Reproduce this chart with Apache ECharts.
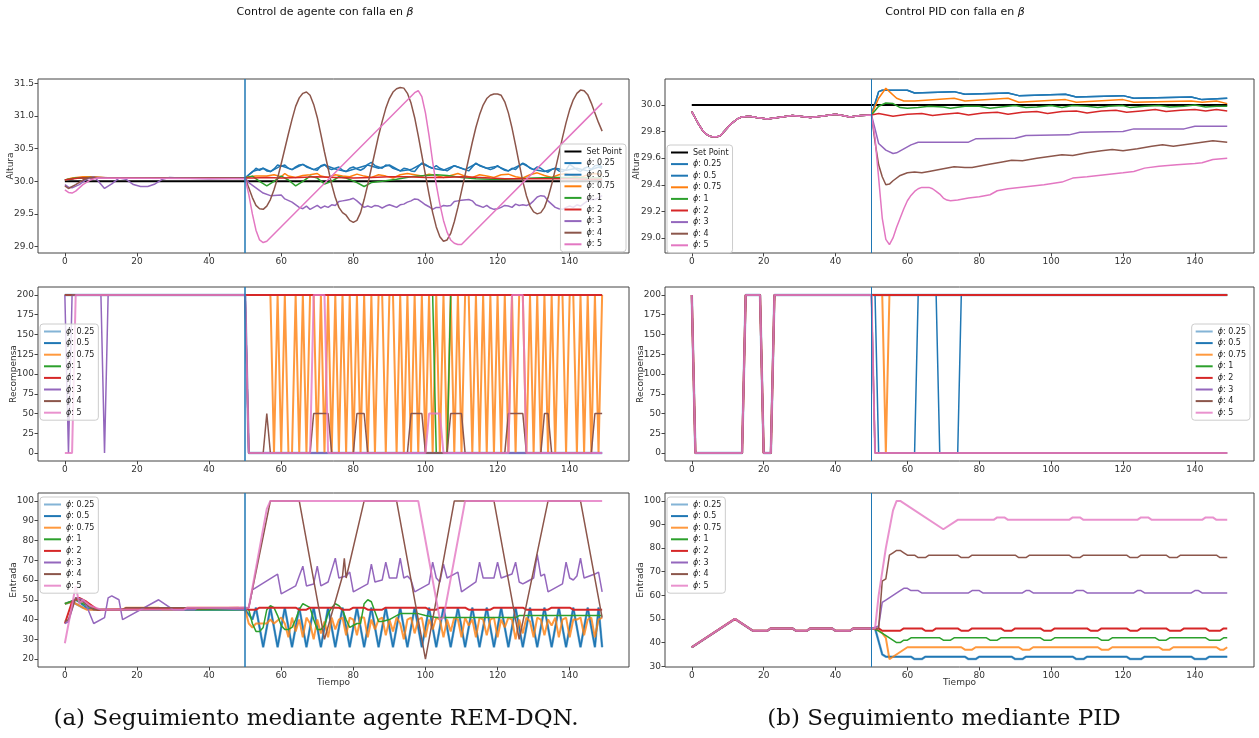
<!DOCTYPE html>
<html>
<head>
<meta charset="utf-8">
<script src="https://cdn.jsdelivr.net/npm/echarts@6/dist/echarts.min.js"></script>
<style>
html,body{margin:0;padding:0;background:#fff;}
#chart{width:1259px;height:738px;}
</style>
</head>
<body>
<div id="chart"></div>
<script>
// ---------------- data ----------------
const phiLabels = ['ϕ: 0.25','ϕ: 0.5','ϕ: 0.75','ϕ: 1','ϕ: 2','ϕ: 3','ϕ: 4','ϕ: 5'];
const phiColors = ['#1f77b4','#1f77b4','#ff7f0e','#2ca02c','#d62728','#9467bd','#8c564b','#e377c2'];
const timeTicks = [0,20,40,60,80,100,120,140];
const faultTime = 50;

// Altura - agente REM-DQN  ([tiempo, valor])
const altAgSetPoint = [[0,30],[149,30]];
const altAgPhi025 = [[0,30.02],[3,30.05],[6,30.06],[10,30.05],[50,30.05],[52,30.15],[55,30.2],[57,30.15],[60,30.24],[63,30.18],[66,30.26],[69,30.18],[72,30.25],[75,30.19],[78,30.15],[81,30.2],[84,30.25],[87,30.2],[90,30.25],[93,30.16],[96,30.18],[99,30.27],[102,30.2],[105,30.17],[108,30.24],[111,30.18],[114,30.27],[117,30.2],[120,30.23],[123,30.16],[127,30.27],[130,30.18],[133,30.15],[136,30.2],[139,30.17],[142,30.2],[145,30.16],[148,30.22],[149,30.2]];
const altAgPhi05 = [[0,30.02],[3,30.05],[6,30.06],[10,30.05],[50,30.05],[51,30.1],[52,30.14],[53,30.2],[54,30.17],[55,30.2],[56,30.16],[57,30.15],[58,30.19],[59,30.25],[60,30.23],[61,30.25],[62,30.2],[63,30.18],[64,30.22],[65,30.25],[66,30.26],[67,30.22],[68,30.2],[69,30.18],[70,30.17],[71,30.24],[72,30.26],[73,30.2],[74,30.18],[75,30.2],[76,30.22],[77,30.17],[78,30.15],[79,30.2],[80,30.22],[81,30.19],[82,30.17],[83,30.2],[84,30.26],[85,30.29],[86,30.24],[87,30.22],[88,30.2],[89,30.25],[90,30.24],[91,30.2],[92,30.18],[93,30.16],[94,30.2],[95,30.19],[96,30.16],[97,30.15],[98,30.22],[99,30.28],[100,30.26],[101,30.22],[102,30.2],[103,30.24],[104,30.2],[105,30.18],[106,30.16],[107,30.2],[108,30.24],[109,30.22],[110,30.2],[111,30.18],[112,30.16],[113,30.22],[114,30.28],[115,30.24],[116,30.22],[117,30.2],[118,30.18],[119,30.2],[120,30.24],[121,30.2],[122,30.17],[123,30.16],[124,30.2],[125,30.18],[126,30.24],[127,30.28],[128,30.25],[129,30.2],[130,30.18],[131,30.22],[132,30.2],[133,30.16],[134,30.14],[135,30.18],[136,30.2],[137,30.16],[138,30.15],[139,30.18],[140,30.26],[141,30.22],[142,30.18],[143,30.15],[144,30.2],[145,30.22],[146,30.18],[147,30.24],[148,30.25],[149,30.22]];
const altAgPhi075 = [[0,30.02],[2,30.05],[5,30.07],[8,30.07],[12,30.05],[50,30.05],[51,30.07],[53,30.08],[56,30.08],[58,30.1],[60,30.07],[61,30.12],[62,30.08],[64,30.06],[66,30.09],[68,30.1],[70,30.12],[71,30.08],[73,30.06],[75,30.1],[77,30.08],[79,30.07],[81,30.11],[83,30.08],[85,30.06],[87,30.1],[89,30.08],[91,30.05],[93,30.1],[95,30.12],[97,30.1],[99,30.08],[101,30.11],[103,30.09],[105,30.06],[107,30.09],[109,30.12],[111,30.08],[113,30.06],[115,30.1],[117,30.08],[119,30.06],[121,30.1],[123,30.11],[125,30.07],[127,30.05],[129,30.1],[131,30.13],[133,30.09],[135,30.06],[137,30.1],[139,30.12],[141,30.08],[143,30.06],[145,30.1],[147,30.12],[149,30.1]];
const altAgPhi1 = [[0,30.02],[3,30.05],[7,30.06],[12,30.05],[50,30.05],[52,30.08],[54,30.0],[56,29.93],[58,30.0],[60,30.08],[62,30.02],[64,29.93],[66,30.0],[68,30.08],[70,30.05],[72,29.96],[74,30.0],[76,30.07],[78,30.05],[81,29.98],[83,29.92],[85,29.98],[88,30.0],[92,30.03],[96,30.07],[100,30.09],[103,30.1],[106,30.09],[110,30.06],[114,30.04],[118,30.03],[122,30.03],[126,30.04],[130,30.05],[135,30.06],[140,30.06],[145,30.05],[149,30.05]];
const altAgPhi2 = [[0,30.02],[4,30.05],[50,30.05],[52,30.05],[56,30.06],[60,30.05],[65,30.06],[70,30.07],[75,30.06],[80,30.05],[85,30.06],[90,30.07],[95,30.07],[100,30.06],[105,30.06],[110,30.07],[115,30.06],[118,30.05],[122,30.04],[130,30.04],[140,30.04],[145,30.03],[149,30.03]];
const altAgPhi3 = [[0,29.95],[1,29.91],[2,29.9],[4,29.95],[6,30.03],[8,30.07],[9,30.02],[11,29.89],[13,29.96],[15,30.05],[17,30.03],[19,29.95],[21,29.92],[23,29.92],[25,29.96],[27,30.03],[29,30.06],[32,30.05],[40,30.04],[50,30.05],[51,29.98],[53,29.9],[55,29.82],[57,29.78],[60,29.79],[61,29.73],[63,29.68],[65,29.6],[66,29.58],[67,29.62],[68,29.57],[69,29.6],[70,29.63],[71,29.59],[72,29.62],[73,29.6],[74,29.64],[75,29.63],[76,29.69],[77,29.7],[78,29.71],[79,29.72],[80,29.74],[81,29.7],[82,29.65],[83,29.6],[84,29.62],[85,29.6],[86,29.63],[87,29.62],[88,29.59],[89,29.62],[90,29.64],[91,29.62],[92,29.6],[93,29.64],[94,29.65],[95,29.68],[96,29.7],[97,29.73],[98,29.72],[99,29.68],[100,29.64],[101,29.61],[102,29.57],[103,29.6],[104,29.6],[105,29.63],[106,29.62],[107,29.63],[108,29.69],[109,29.7],[110,29.71],[112,29.72],[113,29.7],[114,29.64],[115,29.62],[116,29.6],[117,29.63],[118,29.59],[119,29.57],[120,29.58],[121,29.6],[122,29.63],[123,29.62],[124,29.6],[125,29.65],[126,29.63],[127,29.64],[128,29.63],[129,29.65],[130,29.7],[131,29.76],[132,29.78],[133,29.77],[134,29.7],[135,29.65],[136,29.6],[137,29.58],[138,29.57],[139,29.6],[140,29.62],[141,29.6],[142,29.64],[143,29.62],[144,29.66],[145,29.7],[146,29.72],[147,29.72],[148,29.75],[149,29.78]];
const altAgPhi4 = [[0,29.93],[1,29.89],[3,29.95],[5,30.02],[7,30.06],[10,30.06],[14,30.05],[50,30.05],[51,29.9],[52,29.75],[53,29.63],[54,29.58],[55,29.57],[56,29.62],[57,29.72],[58,29.87],[59,30.05],[60,30.27],[61,30.5],[62,30.73],[63,30.95],[64,31.15],[65,31.28],[66,31.35],[67,31.37],[68,31.32],[69,31.18],[70,30.98],[71,30.72],[72,30.45],[73,30.2],[74,29.95],[75,29.75],[76,29.6],[77,29.52],[78,29.48],[79,29.4],[80,29.37],[81,29.4],[82,29.52],[83,29.72],[84,29.95],[85,30.2],[86,30.45],[87,30.7],[88,30.92],[89,31.12],[90,31.27],[91,31.37],[92,31.42],[93,31.44],[94,31.43],[95,31.35],[96,31.2],[97,30.98],[98,30.7],[99,30.4],[100,30.1],[101,29.8],[102,29.52],[103,29.3],[104,29.15],[105,29.08],[106,29.1],[107,29.2],[108,29.38],[109,29.6],[110,29.85],[111,30.1],[112,30.35],[113,30.6],[114,30.83],[115,31.02],[116,31.17],[117,31.27],[118,31.32],[119,31.34],[120,31.34],[121,31.32],[122,31.22],[123,31.05],[124,30.82],[125,30.55],[126,30.27],[127,30.0],[128,29.78],[129,29.62],[130,29.53],[131,29.5],[132,29.52],[133,29.6],[134,29.75],[135,29.95],[136,30.18],[137,30.42],[138,30.67],[139,30.9],[140,31.1],[141,31.25],[142,31.35],[143,31.4],[144,31.39],[145,31.33],[146,31.2],[147,31.05],[148,30.9],[149,30.77]];
const altAgPhi5 = [[0,29.87],[1,29.83],[2,29.82],[3,29.85],[5,29.95],[7,30.02],[9,30.05],[50,30.04],[51,29.8],[52,29.5],[53,29.25],[54,29.1],[55,29.06],[56,29.08],[97,31.36],[98,31.39],[99,31.3],[100,31.05],[101,30.7],[102,30.3],[103,29.95],[104,29.65],[105,29.4],[106,29.22],[107,29.1],[108,29.05],[109,29.03],[110,29.03],[149,31.2]];

// Altura - PID (tramo previo a la falla comun a todos los casos)
const altPidSetPoint = [[0,30],[149,30]];
const altPidPre = [[0,29.95],[1,29.9],[2,29.85],[3,29.81],[4,29.78],[5,29.765],[6,29.76],[7,29.76],[8,29.77],[9,29.8],[10,29.83],[11,29.86],[12,29.88],[13,29.9],[14,29.91],[16,29.915],[18,29.905],[21,29.895],[25,29.91],[28,29.92],[30,29.915],[33,29.905],[36,29.915],[40,29.93],[42,29.92],[44,29.91],[47,29.92],[50,29.925]];
const altPidPhi025 = [[52,30.1],[53,30.11],[60,30.11],[62,30.09],[73,30.1],[76,30.08],[88,30.09],[91,30.07],[104,30.08],[107,30.06],[120,30.07],[123,30.05],[139,30.06],[142,30.04],[149,30.05]];
const altPidPhi05 = [[52,30.1],[53,30.11],[60,30.11],[62,30.09],[73,30.1],[76,30.08],[88,30.09],[91,30.07],[104,30.08],[107,30.06],[120,30.07],[123,30.05],[139,30.06],[142,30.04],[149,30.05]];
const altPidPhi075 = [[52,30.05],[54,30.125],[55,30.1],[57,30.05],[59,30.03],[62,30.03],[73,30.05],[76,30.03],[88,30.05],[91,30.02],[104,30.04],[107,30.02],[120,30.04],[123,30.02],[139,30.03],[142,30.02],[146,30.03],[149,30.01]];
const altPidPhi1 = [[52,29.99],[54,30.015],[56,30.01],[58,29.98],[60,29.975],[63,29.98],[66,29.99],[70,29.985],[72,29.975],[76,29.99],[80,29.99],[83,29.975],[86,29.985],[90,29.995],[93,29.98],[96,29.985],[100,29.995],[103,29.98],[106,29.995],[110,29.99],[113,29.98],[116,29.99],[120,29.995],[122,29.98],[126,29.99],[130,29.995],[133,29.985],[137,29.99],[140,30.0],[143,29.985],[146,29.99],[149,29.99]];
const altPidPhi2 = [[52,29.935],[56,29.915],[60,29.93],[64,29.935],[67,29.92],[70,29.93],[74,29.94],[77,29.925],[81,29.94],[85,29.945],[88,29.93],[92,29.945],[96,29.95],[99,29.935],[103,29.95],[107,29.955],[110,29.94],[114,29.955],[118,29.96],[121,29.945],[125,29.955],[129,29.965],[132,29.95],[136,29.96],[140,29.965],[143,29.955],[146,29.965],[149,29.955]];
const altPidPhi3 = [[51,29.82],[52,29.71],[54,29.66],[56,29.635],[57,29.64],[59,29.67],[61,29.7],[63,29.72],[77,29.72],[79,29.745],[90,29.75],[93,29.77],[105,29.775],[108,29.795],[120,29.8],[123,29.82],[137,29.82],[140,29.84],[149,29.84]];
const altPidPhi4 = [[51,29.72],[52,29.55],[53,29.46],[54,29.4],[55,29.405],[56,29.43],[58,29.47],[60,29.49],[62,29.495],[64,29.49],[66,29.5],[70,29.52],[73,29.535],[76,29.53],[78,29.53],[82,29.55],[86,29.57],[89,29.585],[92,29.58],[96,29.6],[100,29.615],[103,29.625],[106,29.62],[110,29.64],[114,29.655],[117,29.665],[120,29.655],[124,29.67],[128,29.69],[131,29.7],[134,29.69],[138,29.705],[142,29.72],[145,29.73],[149,29.72]];
const altPidPhi5 = [[51,29.75],[52,29.45],[53,29.15],[54,28.99],[55,28.95],[56,29.0],[57,29.08],[58,29.15],[59,29.22],[60,29.28],[61,29.32],[62,29.35],[63,29.37],[64,29.38],[66,29.38],[67,29.37],[68,29.35],[69,29.33],[70,29.3],[71,29.285],[72,29.28],[74,29.285],[77,29.3],[80,29.31],[83,29.325],[85,29.355],[88,29.37],[93,29.385],[98,29.4],[103,29.42],[106,29.45],[110,29.46],[115,29.475],[120,29.49],[123,29.5],[126,29.525],[130,29.54],[135,29.55],[140,29.56],[142,29.565],[145,29.59],[149,29.6]];

// Recompensa - agente REM-DQN
const recAgPhi025 = [[0,200],[50,200],[51,0],[149,0]];
const recAgPhi05 = [[0,200],[50,200],[51,0],[149,0]];
const recAgPhi075 = [[0,200],[57,200],[58,0],[59,200],[60,0],[61,200],[62,0],[63,0],[64,200],[65,0],[66,200],[67,0],[68,200],[69,200],[70,0],[71,200],[72,0],[73,200],[74,0],[75,200],[76,0],[77,200],[78,0],[79,200],[80,0],[81,200],[82,0],[83,200],[84,0],[85,200],[86,0],[87,200],[88,200],[89,0],[90,200],[91,200],[92,0],[93,200],[94,0],[95,200],[96,0],[97,200],[98,0],[99,200],[100,0],[101,200],[102,0],[103,200],[104,0],[105,200],[106,0],[107,200],[108,0],[109,200],[110,0],[111,200],[112,200],[113,0],[114,200],[115,0],[116,200],[117,0],[118,200],[119,0],[120,200],[121,0],[122,200],[123,0],[124,200],[125,0],[126,200],[127,200],[128,0],[129,200],[130,0],[131,200],[132,0],[133,200],[134,0],[135,200],[136,0],[137,200],[138,200],[139,0],[140,200],[141,200],[142,0],[143,200],[144,0],[145,200],[146,0],[147,200],[148,0],[149,200]];
const recAgPhi1 = [[0,200],[102,200],[103,0],[106,0],[107,200],[149,200]];
const recAgPhi2 = [[0,200],[149,200]];
const recAgPhi3 = [[0,200],[1,0],[2,200],[10,200],[11,0],[12,200],[50,200],[51,0],[149,0]];
const recAgPhi4 = [[0,200],[50,200],[51,0],[55,0],[56,50],[57,0],[68,0],[69,50],[73,50],[74,0],[80,0],[81,50],[83,50],[84,0],[95,0],[96,50],[99,50],[100,0],[106,0],[107,50],[110,50],[111,0],[122,0],[123,50],[127,50],[128,0],[132,0],[133,50],[134,50],[135,0],[146,0],[147,50],[149,50]];
const recAgPhi5 = [[0,0],[2,0],[3,200],[50,200],[51,0],[68,0],[69,200],[72,200],[73,0],[100,0],[101,50],[104,50],[105,0],[123,0],[124,200],[127,200],[128,0],[149,0]];

// Recompensa - PID
const recPidPre = [[0,200],[1,0],[14,0],[15,200],[19,200],[20,0],[22,0],[23,200],[50,200]];
const recPidPhi025 = [[149,200]];
const recPidPhi05 = [[51,200],[52,0],[62,0],[63,200],[68,200],[69,0],[74,0],[75,200],[149,200]];
const recPidPhi075 = [[53,200],[54,0],[55,200],[149,200]];
const recPidPhi1 = [[149,200]];
const recPidPhi2 = [[149,200]];
const recPidPhi3 = [[51,0],[149,0]];
const recPidPhi4 = [[51,0],[149,0]];
const recPidPhi5 = [[51,0],[149,0]];

// Entrada - agente REM-DQN
const entAgPhi025 = [[0,48],[2,49],[5,46],[8,45],[50,45],[52,40],[53,46],[55,26],[57,46],[59,26],[61,46],[63,26],[65,46],[67,26],[69,46],[71,26],[73,46],[75,26],[77,46],[79,26],[81,46],[83,26],[85,46],[87,26],[89,46],[91,26],[93,46],[95,26],[97,46],[99,26],[101,46],[103,26],[105,46],[107,26],[109,46],[111,26],[113,46],[115,26],[117,46],[119,26],[121,46],[123,26],[125,46],[127,26],[129,46],[131,26],[133,46],[135,26],[137,46],[139,26],[141,46],[143,26],[145,46],[147,26],[148,46],[149,26]];
const entAgPhi05 = [[0,48],[3,50],[6,46],[9,45],[50,45],[52,40],[53,46],[55,26],[57,46],[59,26],[61,46],[63,26],[65,46],[67,26],[69,46],[71,26],[73,46],[75,26],[77,46],[79,26],[81,46],[83,26],[85,46],[87,26],[89,46],[91,26],[93,46],[95,26],[97,46],[99,26],[101,46],[103,26],[105,46],[107,26],[109,46],[111,26],[113,46],[115,26],[117,46],[119,26],[121,46],[123,26],[125,46],[127,26],[129,46],[131,26],[133,46],[135,26],[137,46],[139,26],[141,46],[143,26],[145,46],[147,26],[148,46],[149,26]];
const entAgPhi075 = [[0,48],[2,49],[4,47],[6,45],[16,45],[17,46],[26,46],[27,45],[30,45],[34,46],[48,46],[50,45],[51,38],[52,36],[53,38],[56,38],[57,40],[58,38],[60,41],[61,38],[62,31],[63,41],[64,34],[65,40],[66,31],[67,41],[68,38],[69,30],[70,40],[71,33],[72,39],[73,31],[74,41],[75,35],[76,40],[77,41],[78,32],[79,41],[80,40],[81,32],[82,41],[83,41],[84,31],[85,40],[86,35],[87,40],[88,41],[89,32],[90,40],[91,34],[92,41],[93,38],[94,30],[95,40],[96,41],[97,33],[98,40],[99,41],[100,31],[101,40],[102,35],[103,41],[104,40],[105,31],[106,40],[107,34],[108,41],[109,40],[110,31],[111,41],[112,37],[113,40],[114,31],[115,41],[116,40],[117,32],[118,40],[119,41],[120,31],[121,40],[122,36],[123,41],[124,40],[125,30],[126,40],[127,33],[128,41],[129,39],[130,31],[131,41],[132,40],[133,32],[134,40],[135,37],[136,41],[137,31],[138,40],[139,41],[140,31],[141,40],[142,40],[143,41],[144,32],[145,40],[146,41],[147,31],[148,40],[149,41]];
const entAgPhi1 = [[0,48],[3,50],[6,47],[9,45],[50,45],[51,45],[52,38],[53,34],[54,34],[55,36],[56,45],[57,47],[58,46],[59,42],[60,37],[61,35],[62,35],[63,36],[64,40],[65,45],[66,48],[67,47],[68,46],[69,40],[70,35],[71,35],[72,37],[73,43],[74,46],[75,48],[76,47],[77,45],[78,40],[79,36],[80,37],[81,38],[82,38],[83,48],[84,50],[85,49],[86,44],[87,39],[88,39],[90,40],[92,42],[93,43],[98,43],[100,42],[103,41],[125,41],[126,42],[149,42]];
const entAgPhi2 = [[0,38],[2,49],[4,51],[6,49],[9,45],[50,46],[51,45],[53,45],[54,46],[64,46],[65,45],[67,45],[68,46],[76,46],[77,45],[79,45],[80,46],[83,46],[84,45],[88,45],[89,46],[100,46],[101,45],[103,45],[104,46],[111,46],[112,45],[118,45],[119,46],[127,46],[128,45],[134,45],[135,46],[140,46],[141,45],[149,45]];
const entAgPhi3 = [[0,38],[1,39],[3,51],[5,50],[6,47],[8,38],[11,41],[12,51],[13,52],[15,50],[16,40],[26,50],[30,45],[36,45],[37,46],[50,45],[51,46],[52,55],[59,63],[60,53],[64,57],[65,62],[66,67],[67,57],[69,58],[70,67],[71,57],[73,59],[74,65],[75,71],[76,61],[78,62],[79,64],[80,54],[84,58],[85,68],[86,59],[88,60],[89,69],[90,61],[92,61],[93,71],[94,61],[95,62],[96,60],[97,54],[101,58],[102,69],[103,61],[104,59],[105,68],[106,61],[108,63],[109,64],[110,54],[114,59],[115,69],[116,61],[119,61],[120,69],[121,61],[124,63],[125,69],[126,59],[127,58],[128,59],[130,61],[131,73],[132,62],[133,63],[134,54],[138,58],[139,69],[140,61],[141,60],[142,62],[143,71],[144,61],[147,63],[148,64],[149,54]];
const entAgPhi4 = [[0,39],[1,40],[3,51],[5,49],[8,45],[16,45],[17,46],[50,46],[51,46],[57,100],[65,100],[72,30],[77,62],[77.5,71],[78,61],[83,100],[92,100],[100,20],[108,100],[111,100],[119,100],[126,30],[134,100],[143,100],[149,41]];
const entAgPhi5 = [[0,28],[3,57],[4,48],[5,50],[7,47],[10,45],[33,45],[34,46],[50,46],[51,46],[56,96],[57,100],[98,100],[104,40],[105,41],[111,100],[149,100]];

// Entrada - PID
const entPidPre = [[0,38],[12,50],[17,45],[21,45],[22,46],[28,46],[29,45],[32,45],[33,46],[39,46],[40,45],[44,45],[45,46],[50,46]];
const entPidPhi025 = [[51,46],[53,35],[54,34],[61,34],[62,33],[64,33],[65,34],[76,34],[77,33],[79,33],[80,34],[89,34],[90,33],[92,33],[93,34],[106,34],[107,33],[109,33],[110,34],[121,34],[122,33],[125,33],[126,34],[139,34],[140,33],[143,33],[144,34],[149,34]];
const entPidPhi05 = [[51,46],[53,35],[54,34],[61,34],[62,33],[64,33],[65,34],[76,34],[77,33],[79,33],[80,34],[89,34],[90,33],[92,33],[93,34],[106,34],[107,33],[109,33],[110,34],[121,34],[122,33],[125,33],[126,34],[139,34],[140,33],[143,33],[144,34],[149,34]];
const entPidPhi075 = [[51,46],[53,44],[54,42],[55,33],[56,34],[60,38],[75,38],[76,37],[78,37],[79,38],[91,38],[92,37],[94,37],[95,38],[113,38],[114,37],[116,37],[117,38],[130,38],[131,37],[133,37],[134,38],[146,38],[147,37],[148,37],[149,38]];
const entPidPhi1 = [[52,45],[55,42],[57,40],[58,40],[59,41],[60,41],[61,42],[69,42],[70,41],[72,41],[73,42],[82,42],[83,41],[85,41],[86,42],[97,42],[98,41],[100,41],[101,42],[113,42],[114,41],[116,41],[117,42],[129,42],[130,41],[132,41],[133,42],[143,42],[144,41],[147,41],[148,42],[149,42]];
const entPidPhi2 = [[52,46],[53,45],[58,45],[59,46],[64,46],[65,45],[67,45],[68,46],[74,46],[75,45],[77,45],[78,46],[86,46],[87,45],[89,45],[90,46],[97,46],[98,45],[100,45],[101,46],[110,46],[111,45],[113,45],[114,46],[121,46],[122,45],[124,45],[125,46],[132,46],[133,45],[136,45],[137,46],[143,46],[144,45],[147,45],[148,46],[149,46]];
const entPidPhi3 = [[52,47],[53,57],[54,58],[58,62],[59,63],[60,63],[61,62],[63,62],[64,61],[77,61],[78,62],[80,62],[81,61],[92,61],[93,62],[94,62],[95,61],[106,61],[107,62],[109,62],[110,61],[123,61],[124,62],[125,62],[126,61],[139,61],[140,62],[141,62],[142,61],[149,61]];
const entPidPhi4 = [[52,46],[53,66],[54,67],[55,77],[56,78],[57,79],[58,79],[59,78],[60,77],[62,77],[63,76],[65,76],[66,77],[74,77],[75,76],[77,76],[78,77],[90,77],[91,76],[93,76],[94,77],[105,77],[106,76],[108,76],[109,77],[121,77],[122,76],[124,76],[125,77],[132,77],[133,76],[135,76],[136,77],[146,77],[147,76],[149,76]];
const entPidPhi5 = [[51,46],[52,60],[54,80],[56,96],[57,100],[58,100],[70,88],[74,92],[84,92],[85,93],[87,93],[88,92],[105,92],[106,93],[108,93],[109,92],[124,92],[125,93],[127,93],[128,92],[142,92],[143,93],[145,93],[146,92],[149,92]];

// ---------------- layout ----------------
const FONT = '"DejaVu Sans", sans-serif';
const panels = [
  {key:'a1', grid:{left:38, top:79, width:591, height:174}, ymin:28.9, ymax:31.57, yticks:[29,29.5,30,30.5,31,31.5], dec:1, yname:'Altura', ygap:23, xname:'',
   legend:{right:633, top:144}},
  {key:'b1', grid:{left:665, top:79, width:589, height:174}, ymin:28.887, ymax:30.195, yticks:[29,29.2,29.4,29.6,29.8,30], dec:1, yname:'Altura', ygap:24, xname:'',
   legend:{left:667, top:145}},
  {key:'a2', grid:{left:38, top:287, width:591, height:174}, ymin:-10, ymax:210, yticks:[0,25,50,75,100,125,150,175,200], dec:0, yname:'Recompensa', ygap:20, xname:'',
   legend:{left:40, top:324}},
  {key:'b2', grid:{left:665, top:287, width:589, height:174}, ymin:-10, ymax:210, yticks:[0,25,50,75,100,125,150,175,200], dec:0, yname:'Recompensa', ygap:20, xname:'',
   legend:{right:9, top:324}},
  {key:'a3', grid:{left:38, top:493, width:591, height:174}, ymin:16, ymax:104, yticks:[20,30,40,50,60,70,80,90,100], dec:0, yname:'Entrada', ygap:20, xname:'Tiempo',
   legend:{left:40, top:497}},
  {key:'b3', grid:{left:665, top:493, width:589, height:174}, ymin:29.65, ymax:103.35, yticks:[30,40,50,60,70,80,90,100], dec:0, yname:'Entrada', ygap:20, xname:'Tiempo',
   legend:{left:667, top:497}}
];

const panelSeries = {
  a1: {setPoint: altAgSetPoint, phi: [altAgPhi025, altAgPhi05, altAgPhi075, altAgPhi1, altAgPhi2, altAgPhi3, altAgPhi4, altAgPhi5]},
  b1: {setPoint: altPidSetPoint, pre: altPidPre, phi: [altPidPhi025, altPidPhi05, altPidPhi075, altPidPhi1, altPidPhi2, altPidPhi3, altPidPhi4, altPidPhi5]},
  a2: {phi: [recAgPhi025, recAgPhi05, recAgPhi075, recAgPhi1, recAgPhi2, recAgPhi3, recAgPhi4, recAgPhi5]},
  b2: {pre: recPidPre, phi: [recPidPhi025, recPidPhi05, recPidPhi075, recPidPhi1, recPidPhi2, recPidPhi3, recPidPhi4, recPidPhi5]},
  a3: {phi: [entAgPhi025, entAgPhi05, entAgPhi075, entAgPhi1, entAgPhi2, entAgPhi3, entAgPhi4, entAgPhi5]},
  b3: {pre: entPidPre, phi: [entPidPhi025, entPidPhi05, entPidPhi075, entPidPhi1, entPidPhi2, entPidPhi3, entPidPhi4, entPidPhi5]}
};

// line styles per phi in the reward / input panels (width, opacity)
const lowerStyle = [[2.5,0.55],[1.5,1],[2,0.8],[1.5,1],[2,1],[1.5,1],[1.5,1],[2,0.8]];

const grids = [], xAxes = [], yAxes = [], series = [], legends = [];
const axisText = {color:'#333', fontSize:9, fontFamily:FONT};
const nameText = {color:'#333', fontSize:9, fontFamily:FONT};

panels.forEach((p, gi) => {
  grids.push(Object.assign({show:true, borderColor:'#444', borderWidth:1, backgroundColor:'transparent', containLabel:false}, p.grid));
  xAxes.push({type:'value', gridIndex:gi, min:-7.45, max:156.45, position:'bottom',
    axisLine:{show:false, onZero:false}, splitLine:{show:false},
    axisTick:{show:true, length:3.5, lineStyle:{color:'#444'}, customValues:timeTicks},
    axisLabel:Object.assign({margin:4, customValues:timeTicks}, axisText),
    name:p.xname, nameLocation:'middle', nameGap:11, nameMoveOverlap:false, nameTextStyle:nameText});
  yAxes.push({type:'value', gridIndex:gi, min:p.ymin, max:p.ymax, position:'left',
    axisLine:{show:false, onZero:false}, splitLine:{show:false},
    axisTick:{show:true, length:3.5, lineStyle:{color:'#444'}, customValues:p.yticks},
    axisLabel:Object.assign({margin:4, customValues:p.yticks, formatter:v => Number(v).toFixed(p.dec)}, axisText),
    name:p.yname, nameLocation:'middle', nameGap:p.ygap, nameMoveOverlap:false, nameRotate:90, nameTextStyle:nameText});

  const src = panelSeries[p.key];
  const names = [];
  const lower = p.key[1] !== '1';
  if (src.setPoint) {
    const nm = 'Set Point|' + p.key;
    names.push(nm);
    series.push({type:'line', name:nm, xAxisIndex:gi, yAxisIndex:gi, data:src.setPoint,
      symbol:'none', lineStyle:{color:'#000', width:2}, itemStyle:{color:'#000'}, animation:false});
  }
  src.phi.forEach((d, k) => {
    const nm = phiLabels[k] + '|' + p.key;
    names.push(nm);
    const data = src.pre ? src.pre.concat(d) : d;
    const w = lower ? lowerStyle[k][0] : 1.5;
    const op = lower ? lowerStyle[k][1] : 1;
    const s = {type:'line', name:nm, xAxisIndex:gi, yAxisIndex:gi, data:data,
      symbol:'none', lineStyle:{color:phiColors[k], width:w, opacity:op}, itemStyle:{color:phiColors[k], opacity:op}, animation:false};
    if (k === 0) {
      s.markLine = {silent:true, symbol:'none', label:{show:false}, animation:false,
        lineStyle:{color:'#1f77b4', width: p.key[0]==='a' ? 1.5 : 1, type:'solid', opacity:1},
        data:[{xAxis:faultTime}]};
    }
    series.push(s);
  });
  legends.push(Object.assign({show:true, orient:'vertical', top:p.legend.top,
    data:names, selectedMode:false, icon:'rect', itemWidth:17, itemHeight:2, itemGap:2.6,
    padding:[3,4,3,4], borderColor:'#ccc', borderWidth:1, borderRadius:3,
    backgroundColor:'rgba(255,255,255,0.8)',
    textStyle:{color:'#222', fontSize:8, fontFamily:FONT, lineHeight:9,
      rich:{p:{fontStyle:'italic', fontSize:8, fontFamily:FONT, color:'#222', lineHeight:9}}},
    formatter: n => { const s = n.split('|')[0]; return s.charAt(0)==='ϕ' ? '{p|ϕ}' + s.slice(1) : s; }},
    p.legend.left !== undefined ? {left:p.legend.left} : {right:p.legend.right}));
});

const graphics = [
  {type:'text', x:325, y:12, style:{text:'{n|Control de agente con falla en }{b|β}', align:'center', verticalAlign:'middle',
    rich:{n:{fontSize:11, fontFamily:FONT, fill:'#111'}, b:{fontSize:11, fontFamily:FONT, fontStyle:'italic', fill:'#111'}}}},
  {type:'text', x:955, y:12, style:{text:'{n|Control PID con falla en }{b|β}', align:'center', verticalAlign:'middle',
    rich:{n:{fontSize:11, fontFamily:FONT, fill:'#111'}, b:{fontSize:11, fontFamily:FONT, fontStyle:'italic', fill:'#111'}}}},
  {type:'text', x:316, y:719, style:{text:'(a) Seguimiento mediante agente REM-DQN.', align:'center', verticalAlign:'middle',
    fontSize:23, fontFamily:'"DejaVu Serif", serif', fill:'#111'}},
  {type:'text', x:944, y:719, style:{text:'(b) Seguimiento mediante PID', align:'center', verticalAlign:'middle',
    fontSize:23, fontFamily:'"DejaVu Serif", serif', fill:'#111'}}
];

const chart = echarts.init(document.getElementById('chart'), null, {renderer:'canvas'});
chart.setOption({
  backgroundColor:'#fff',
  animation:false,
  grid:grids, xAxis:xAxes, yAxis:yAxes, series:series, legend:legends, graphic:graphics
});
</script>
</body>
</html>
